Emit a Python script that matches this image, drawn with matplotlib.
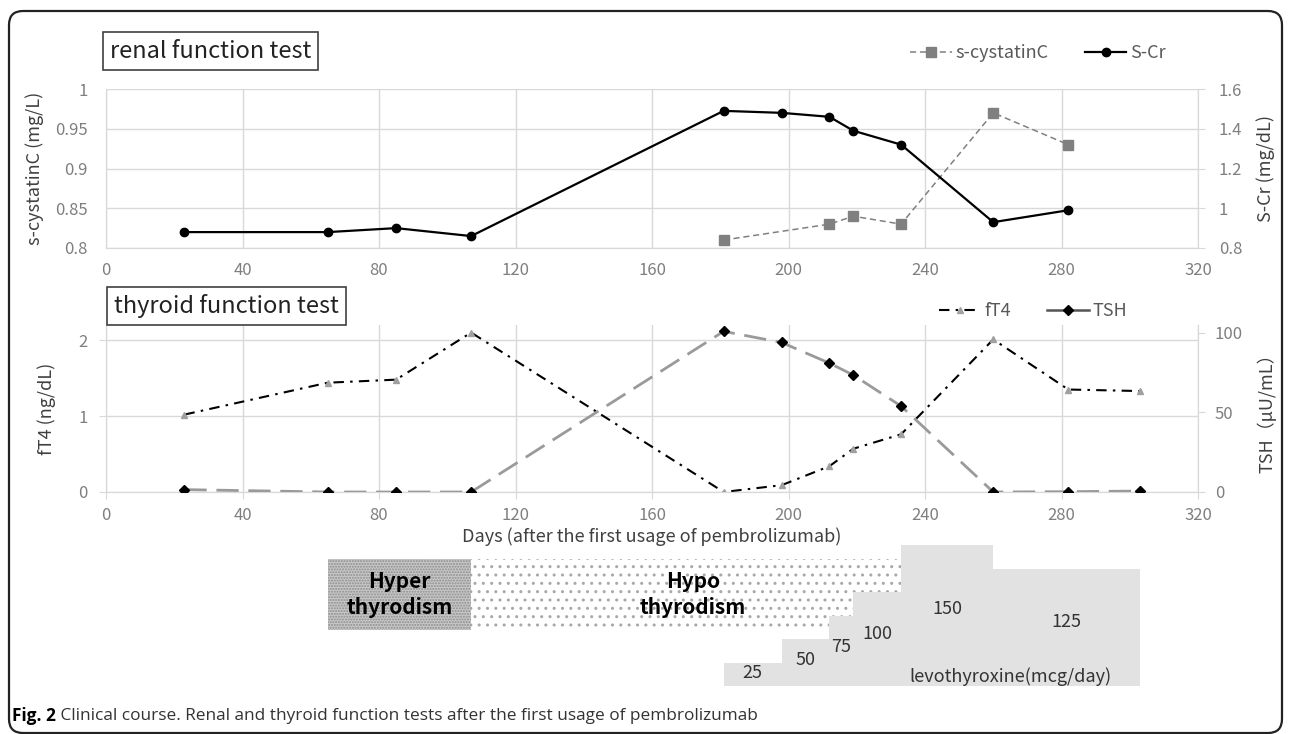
import numpy as np
import matplotlib
matplotlib.use('Agg')
import matplotlib.pyplot as plt
import matplotlib.patches as mpatches
from matplotlib.lines import Line2D
from matplotlib.transforms import IdentityTransform

plt.rcParams['font.family'] = ['Noto Sans CJK JP', 'DejaVu Sans']

## renal function data (days after first usage of pembrolizumab)
cr_days = [23, 65, 85, 107, 181, 198, 212, 219, 233, 260, 282]
s_cr = [0.88, 0.88, 0.90, 0.86, 1.49, 1.48, 1.46, 1.39, 1.32, 0.93, 0.99]
cys_days = [181, 212, 219, 233, 260, 282]
s_cystatin = [0.81, 0.83, 0.84, 0.83, 0.97, 0.93]

## thyroid function data
thy_days = [23, 65, 85, 107, 181, 198, 212, 219, 233, 260, 282, 303]
ft4 = [1.02, 1.44, 1.48, 2.10, 0.0, 0.09, 0.34, 0.57, 0.76, 2.01, 1.35, 1.33]
tsh = [1.5, 0.0, 0.0, 0.0, 101, 94, 81, 73.5, 54, 0.0, 0.2, 0.6]

## thyroid status periods and levothyroxine doses
hyper_period = (65, 107)
hypo_period = (107, 233)
dose_start = [181, 198, 212, 219, 233, 260]
dose_end = [198, 212, 219, 233, 260, 303]
doses = [25, 50, 75, 100, 150, 125]

W, H = 1290, 734
fig = plt.figure(figsize=(W / 100, H / 100), dpi=100)


def axes_px(left, top, right, bottom):
    return fig.add_axes([left / W, 1 - bottom / H, (right - left) / W, (bottom - top) / H])


grid_c = '#d9d9d9'
tick_c = '#7f7f7f'
lab_c = '#404040'


def style(ax, axr, xtick_len, xpad):
    ax.set_xlim(0, 320)
    ax.set_xticks(np.arange(0, 321, 40))
    ax.grid(True, color=grid_c, lw=1)
    ax.set_axisbelow(True)
    for a in (ax, axr):
        a.spines['top'].set_visible(False)
        for s in ('left', 'right', 'bottom'):
            a.spines[s].set_color(grid_c)
    ax.tick_params(axis='x', colors=grid_c, labelcolor=tick_c, labelsize=12,
                   length=xtick_len, pad=xpad)


## --- top: renal function ---
ax1 = axes_px(106, 89, 1198, 248)
ax1r = ax1.twinx()
style(ax1, ax1r, 0, 10)
ax1.set_ylim(0.8, 1.0)
ax1.set_yticks([0.8, 0.85, 0.9, 0.95, 1.0])
ax1.set_yticklabels(['0.8', '0.85', '0.9', '0.95', '1'])
ax1r.set_ylim(0.8, 1.6)
ax1r.set_yticks([0.8, 1.0, 1.2, 1.4, 1.6])
ax1r.set_yticklabels(['0.8', '1', '1.2', '1.4', '1.6'])
ax1.tick_params(axis='y', length=0, labelcolor=tick_c, labelsize=12, pad=13)
ax1r.tick_params(axis='y', length=5, colors=grid_c, labelcolor=tick_c, labelsize=12, pad=10)

l_cys, = ax1.plot(cys_days, s_cystatin, color='#808080', ls=(0, (4, 2.5)), lw=1.1,
                  marker='s', ms=6.5, mec='#808080', mfc='#808080', zorder=3)
l_cr, = ax1r.plot(cr_days, s_cr, color='black', lw=1.6, marker='o', ms=6, zorder=4)
ax1.set_ylabel('s-cystatinC (mg/L)', color=lab_c, fontsize=13, labelpad=8)
ax1r.set_ylabel('S-Cr (mg/dL)', color=lab_c, fontsize=13, labelpad=10)

## --- bottom: thyroid function ---
ax2 = axes_px(106, 325, 1198, 492)
ax2r = ax2.twinx()
style(ax2, ax2r, 5, 6)
ax2.set_ylim(0, 2.2)
ax2.set_yticks([0, 1, 2])
ax2r.set_ylim(0, 105)
ax2r.set_yticks([0, 50, 100])
ax2.tick_params(axis='y', length=5, colors=grid_c, labelcolor=tick_c, labelsize=12, pad=8)
ax2r.tick_params(axis='y', length=5, colors=grid_c, labelcolor=tick_c, labelsize=12, pad=7)

l_tsh, = ax2r.plot(thy_days, tsh, color='#9a9a9a', ls=(0, (8, 3.5)), lw=2,
                   marker='D', ms=5, mfc='black', mec='black', zorder=3)
l_ft4, = ax2.plot(thy_days, ft4, color='black', ls=(0, (5, 3, 1.2, 3)), lw=1.5,
                  marker='^', ms=4.5, mfc='#a0a0a0', mec='#a0a0a0', zorder=4)
ax2.set_ylabel('fT4 (ng/dL)', color=lab_c, fontsize=13, labelpad=16)
ax2r.set_ylabel('TSH（μU/mL）', color=lab_c, fontsize=13, labelpad=10)
ax2.set_xlabel('Days (after the first usage of pembrolizumab)', color=lab_c,
               fontsize=13, labelpad=2)

## legends (TSH key is drawn as a solid line, like the original)
tsh_key = Line2D([], [], color='#555555', lw=1.8, marker='D', ms=5,
                 mfc='black', mec='black')
leg_kw = dict(loc='center', ncol=2, frameon=False, fontsize=13, labelcolor='#595959',
              handlelength=2.3, handletextpad=0.2, columnspacing=2.0)
fig.legend([l_cys, l_cr], ['s-cystatinC', 'S-Cr'],
           bbox_to_anchor=(1038 / W, 1 - 53 / H), **leg_kw)
fig.legend([l_ft4, tsh_key], ['fT4', 'TSH'],
           bbox_to_anchor=(1033 / W, 1 - 311 / H), **leg_kw)

## titled boxes
box_kw = dict(boxstyle='square,pad=0.3', fc='white', ec='#404040', lw=1.2)
fig.text(110 / W, 1 - 51 / H, 'renal function test', fontsize=17, color='#222222',
         va='center', ha='left', bbox=box_kw)
fig.text(114 / W, 1 - 306 / H, 'thyroid function test', fontsize=17, color='#222222',
         va='center', ha='left', bbox=box_kw)

## --- thyroid status and levothyroxine dose panel ---
ax3 = axes_px(106, 536, 1198, 686)
ax3.set_xlim(0, 320)
ax3.set_ylim(0, 160)
ax3.axis('off')

ax3.bar(hyper_period[0], 75.5, width=hyper_period[1] - hyper_period[0], bottom=60,
        align='edge', fc='#c8c8c8', ec='#8c8c8c', lw=0, hatch='......', zorder=1)
ax3.bar(hypo_period[0], 75.5, width=hypo_period[1] - hypo_period[0], bottom=60,
        align='edge', fc='white', ec='#a8a8a8', lw=0, hatch='..', zorder=1)
ax3.text(np.mean(hyper_period), 97.75, 'Hyper\nthyrodism', ha='center', va='center',
         fontsize=15, fontweight='bold', linespacing=1.3, zorder=5)
ax3.text(172, 97.75, 'Hypo\nthyrodism', ha='center', va='center',
         fontsize=15, fontweight='bold', linespacing=1.3, zorder=5)

widths = np.array(dose_end) - np.array(dose_start)
ax3.bar(dose_start, doses, width=widths, align='edge', color='#e2e2e2', lw=0, zorder=3)
for x0, w, d in zip(dose_start, widths, doses):
    ax3.text(x0 + w / 2, d * 0.55, str(d), ha='center', va='center', fontsize=13,
             color='#333333', zorder=5)
ax3.text(265, 9.6, 'levothyroxine(mcg/day)', ha='center', va='center', fontsize=13,
         color='#333333', zorder=5)

## outer rounded frame and caption
frame = mpatches.FancyBboxPatch((9, 1), 1273, 722, boxstyle='round,pad=0,rounding_size=14',
                                transform=IdentityTransform(), fill=False, lw=1.6,
                                ec='#222222')
fig.patches.append(frame)

cap_font = ['Open Sans', 'DejaVu Sans']
t1 = fig.text(12 / W, 1 - 716 / H, 'Fig. 2', fontsize=12.4, fontweight='bold',
              family=cap_font, va='center', ha='left')
ax1.annotate(' Clinical course. Renal and thyroid function tests after the first usage of pembrolizumab',
             xy=(1, 0.5), xycoords=t1, va='center', ha='left', fontsize=12.4,
             family=cap_font, color='#333333', annotation_clip=False)

fig.savefig('out.png', dpi=100)
